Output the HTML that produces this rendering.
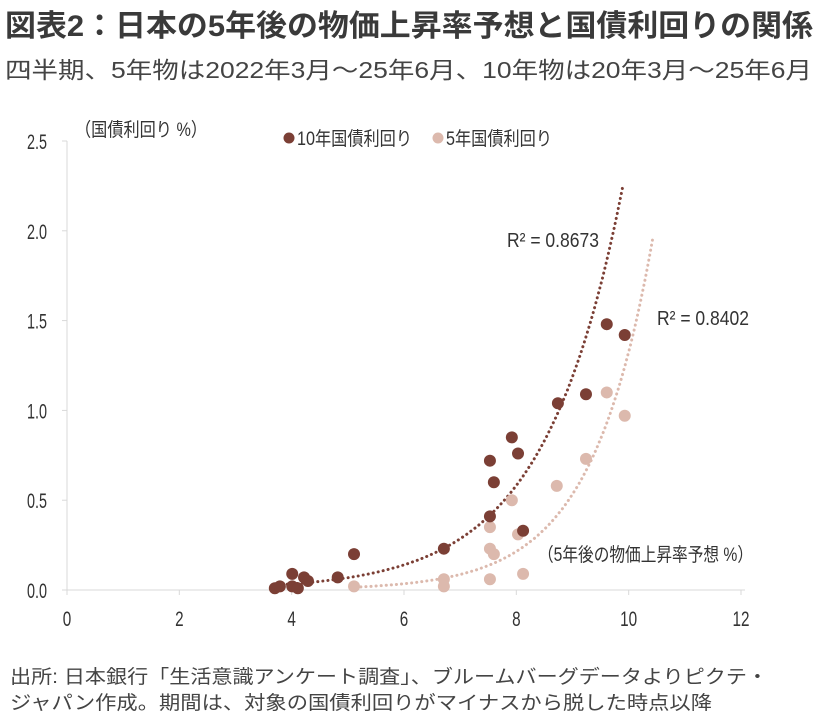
<!DOCTYPE html>
<html><head><meta charset="utf-8"><style>
html,body{margin:0;padding:0;background:#fff;}
svg{display:block;font-family:"Liberation Sans Narrow","Liberation Sans","Noto Sans CJK JP",sans-serif;}
</style></head><body>
<svg id="chart" width="816" height="721" viewBox="0 0 816 721">
<text x="5" y="36" font-size="30" font-weight="bold" fill="#3a3a3a" textLength="808" lengthAdjust="spacingAndGlyphs" font-family="'Liberation Sans','Noto Sans CJK JP',sans-serif">図表2：日本の5年後の物価上昇率予想と国債利回りの関係</text>
<text x="5" y="78" font-size="23" fill="#444" textLength="807" lengthAdjust="spacingAndGlyphs" font-family="'Liberation Sans','Noto Sans CJK JP',sans-serif">四半期、5年物は2022年3月～25年6月、10年物は20年3月～25年6月</text>
<text x="75" y="136" font-size="19" fill="#333" textLength="132" lengthAdjust="spacingAndGlyphs" font-family="'Liberation Sans','Noto Sans CJK JP',sans-serif">（国債利回り %）</text>
<g>
<circle cx="289" cy="138" r="5.5" fill="#7b3f35"/>
<text x="297" y="145" font-size="19" fill="#333" textLength="115" lengthAdjust="spacingAndGlyphs" font-family="'Liberation Sans','Noto Sans CJK JP',sans-serif">10年国債利回り</text>
<circle cx="438" cy="138" r="5.5" fill="#dcb9ad"/>
<text x="446" y="145" font-size="19" fill="#333" textLength="106" lengthAdjust="spacingAndGlyphs" font-family="'Liberation Sans','Noto Sans CJK JP',sans-serif">5年国債利回り</text>
</g>
<text x="538" y="561" font-size="19" fill="#333" textLength="215" lengthAdjust="spacingAndGlyphs" font-family="'Liberation Sans','Noto Sans CJK JP',sans-serif">（5年後の物価上昇率予想 %）</text>
<text x="10" y="683" font-size="19" fill="#444" textLength="758" lengthAdjust="spacingAndGlyphs" font-family="'Liberation Sans','Noto Sans CJK JP',sans-serif">出所: 日本銀行「生活意識アンケート調査」、ブルームバーグデータよりピクテ・</text>
<text x="10" y="709" font-size="19" fill="#444" textLength="702" lengthAdjust="spacingAndGlyphs" font-family="'Liberation Sans','Noto Sans CJK JP',sans-serif">ジャパン作成。期間は、対象の国債利回りがマイナスから脱した時点以降</text>
<g id="axes"></g>
<g id="trends"></g>
<g id="points"></g>
<text x="507" y="247" font-size="20" fill="#333" textLength="92" lengthAdjust="spacingAndGlyphs">R² = 0.8673</text>
<text x="657" y="325" font-size="20" fill="#333" textLength="92" lengthAdjust="spacingAndGlyphs">R² = 0.8402</text>
</svg>
<script>
const xTicks = [0, 2, 4, 6, 8, 10, 12];
const yTicks = [0, 0.5, 1.0, 1.5, 2.0, 2.5];
const tenYearX = [3.70, 3.79, 4.01, 4.01, 4.11, 4.22, 4.29, 4.82, 5.11, 6.71, 7.53, 7.60, 7.53, 7.92, 8.03, 8.12, 8.74, 9.24, 9.61, 9.93];
const tenYearY = [0.01, 0.02, 0.09, 0.02, 0.01, 0.07, 0.05, 0.07, 0.20, 0.23, 0.72, 0.60, 0.41, 0.85, 0.76, 0.33, 1.04, 1.09, 1.48, 1.42];
const fiveYearX = [5.11, 6.71, 6.71, 7.53, 7.53, 7.60, 7.53, 7.92, 8.03, 8.12, 8.72, 9.24, 9.61, 9.93];
const fiveYearY = [0.02, 0.06, 0.02, 0.35, 0.23, 0.20, 0.06, 0.50, 0.31, 0.09, 0.58, 0.73, 1.10, 0.97];
const tenYearTrend = [0.00194, 0.713, 3.65, 9.90];   // a, b, xStart, xEnd : y = a*e^(b*x)
const fiveYearTrend = [0.000148, 0.91, 5.05, 10.43];

const NS = "http://www.w3.org/2000/svg";
const X0 = 67, X1 = 741, Y0 = 590, Y1 = 141;
const sx = v => X0 + (v - 0) / 12 * (X1 - X0);
const sy = v => Y0 - v / 2.5 * (Y0 - Y1);
function mk(tag, attrs, parent){const e=document.createElementNS(NS,tag);for(const k in attrs)e.setAttribute(k,attrs[k]);parent.appendChild(e);return e;}

const axes = document.getElementById('axes');
const yl = mk('line',{x1:X0,y1:Y1,x2:X0,y2:Y0,stroke:'#d9d9d9','stroke-width':1},axes);


const xl = mk('line',{x1:X0-5,y1:Y0,x2:X1+4,y2:Y0,stroke:'#d9d9d9','stroke-width':1},axes);


yTicks.forEach(v=>{
  const t = mk('line',{x1:X0-5,y1:sy(v),x2:X0,y2:sy(v),stroke:'#d9d9d9'},axes);
  
  
  const l = mk('text',{x:47,y:sy(v)+8,'font-size':21,fill:'#333','text-anchor':'end',textLength:20,lengthAdjust:'spacingAndGlyphs'},axes);
  l.textContent = v.toFixed(1);
  
  
});
xTicks.forEach(v=>{
  const s = String(v);
  const t = mk('line',{x1:sx(v),y1:Y0,x2:sx(v),y2:Y0+5,stroke:'#d9d9d9'},axes);
  
  
  const l = mk('text',{x:sx(v),y:626,'font-size':21,fill:'#333','text-anchor':'middle',textLength:s.length*8.5,lengthAdjust:'spacingAndGlyphs'},axes);
  l.textContent = s;
  
  
});

const trends = document.getElementById('trends');
function trend(p, color, name){
  let d='';
  for(let i=0;i<=120;i++){const x=p[2]+(p[3]-p[2])*i/120;const y=p[0]*Math.exp(p[1]*x);d+=(i?'L':'M')+sx(x).toFixed(1)+','+sy(y).toFixed(1);}
  const path = mk('path',{d:d,fill:'none',stroke:color,'stroke-width':3,'stroke-dasharray':'0.1 5','stroke-linecap':'round'},trends);
  
  
}
trend(fiveYearTrend,'#dcb9ad','trendline-5y');
trend(tenYearTrend,'#7b3f35','trendline-10y');

const pts = document.getElementById('points');
fiveYearX.forEach((x,i)=>{
  const c = mk('circle',{cx:sx(x),cy:sy(fiveYearY[i]),r:6,fill:'#dcb9ad'},pts);
  
  
});
tenYearX.forEach((x,i)=>{
  const c = mk('circle',{cx:sx(x),cy:sy(tenYearY[i]),r:6,fill:'#7b3f35'},pts);
  
  
});
</script>
</body></html>
